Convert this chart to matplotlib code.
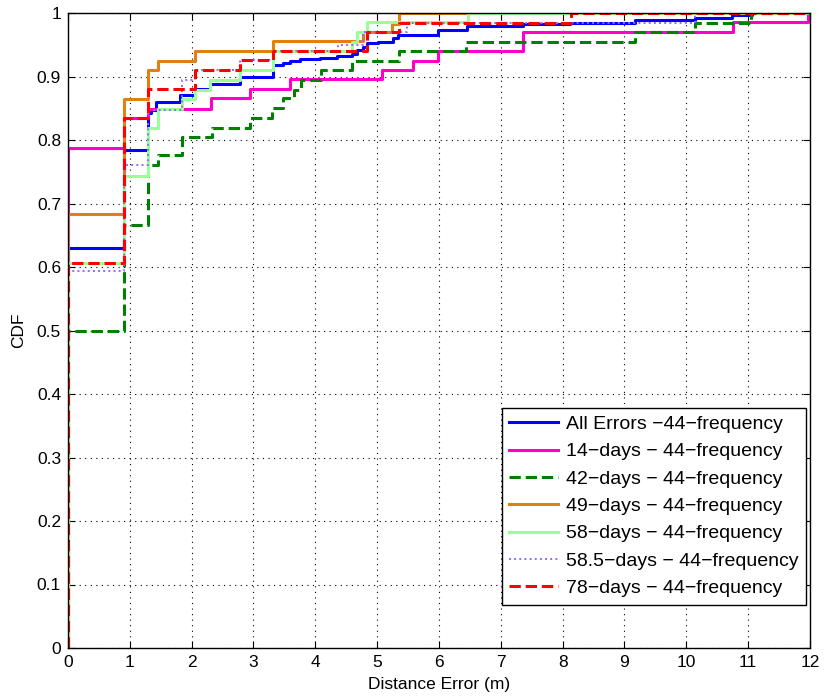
import matplotlib
matplotlib.use("Agg")
from matplotlib import pyplot as plt

plt.rcParams['font.family'] = ['Liberation Sans', 'DejaVu Sans']

# step positions (m) and CDF values
all_x = [0, 0, 0.91, 1.30, 1.35, 1.43, 1.82, 2.06, 2.30, 2.78, 3.32, 3.48, 3.59, 3.75, 4.08, 4.35,
         4.59, 4.67, 4.78, 4.83, 5.02, 5.26, 5.34, 5.99, 6.45, 7.36, 8.12, 9.17, 10.15, 10.74, 11.06, 11.95]
all_y = [0, 0.630, 0.784, 0.842, 0.847, 0.860, 0.871, 0.880, 0.889, 0.900, 0.918, 0.921, 0.924, 0.927, 0.930, 0.932,
         0.936, 0.942, 0.947, 0.953, 0.955, 0.960, 0.965, 0.973, 0.979, 0.983, 0.985, 0.989, 0.992, 0.997, 1.0, 1.0]

d14_x = [0, 0, 0.91, 1.30, 2.32, 2.95, 3.59, 5.08, 5.58, 5.99, 7.36, 10.75, 11.97, 11.97]
d14_y = [0, 0.787, 0.834, 0.849, 0.866, 0.881, 0.896, 0.910, 0.925, 0.940, 0.970, 0.986, 1.0, 1.0]

d42_x = [0, 0, 0.91, 1.30, 1.46, 1.84, 2.33, 2.95, 3.30, 3.47, 3.66, 3.77, 4.10, 4.59, 5.36, 6.43, 9.17, 10.15, 11.05, 11.95]
d42_y = [0, 0.500, 0.667, 0.760, 0.776, 0.805, 0.819, 0.835, 0.850, 0.866, 0.879, 0.894, 0.910, 0.925, 0.940, 0.955, 0.970, 0.985, 1.0, 1.0]

d49_x = [0, 0, 0.91, 1.30, 1.46, 2.06, 3.31, 4.78, 5.24, 5.36, 11.95]
d49_y = [0, 0.683, 0.865, 0.910, 0.925, 0.941, 0.956, 0.970, 0.983, 1.0, 1.0]

d58_x = [0, 0, 0.91, 1.30, 1.46, 1.84, 2.06, 2.30, 2.78, 3.31, 4.59, 4.67, 4.83, 6.47, 11.95]
d58_y = [0, 0.607, 0.744, 0.819, 0.849, 0.865, 0.879, 0.894, 0.910, 0.940, 0.955, 0.970, 0.986, 1.0, 1.0]

d585_x = [0, 0, 0.91, 1.30, 1.84, 2.06, 2.78, 3.31, 4.37, 4.78, 5.48, 10.15, 11.95]
d585_y = [0, 0.593, 0.760, 0.847, 0.894, 0.910, 0.926, 0.941, 0.950, 0.970, 0.985, 1.0, 1.0]

d78_x = [0, 0, 0.91, 1.30, 2.06, 2.78, 3.31, 4.83, 5.36, 8.14, 11.95]
d78_y = [0, 0.607, 0.834, 0.881, 0.910, 0.926, 0.940, 0.970, 0.985, 1.0, 1.0]

fig = plt.figure(figsize=(8.28, 7.0), dpi=100)
ax = fig.add_axes([0.0821, 0.0743, 0.896, 0.907])

ax.step(all_x, all_y, where='post', color='#0000ff', lw=2.2, label='All Errors \u221244\u2212frequency')
ax.step(d14_x, d14_y, where='post', color='#ff00cc', lw=2.2, label='14\u2212days \u2212 44\u2212frequency')
ax.step(d42_x, d42_y, where='post', color='#008000', lw=2.2, ls='--', label='42\u2212days \u2212 44\u2212frequency')
ax.step(d49_x, d49_y, where='post', color='#e08010', lw=2.2, label='49\u2212days \u2212 44\u2212frequency')
ax.step(d58_x, d58_y, where='post', color='#99ff99', lw=2.2, label='58\u2212days \u2212 44\u2212frequency')
ax.step(d585_x, d585_y, where='post', color='#9966ff', lw=1.4, ls=':', label='58.5\u2212days \u2212 44\u2212frequency')
ax.step(d78_x, d78_y, where='post', color='#ff0000', lw=2.2, ls='--', label='78\u2212days \u2212 44\u2212frequency')

ax.set_xlim(0, 12)
ax.set_ylim(0, 1)
ax.set_xticks(range(0, 13))
ax.set_yticks([i / 10 for i in range(11)])
ax.set_yticklabels(['0', '0.1', '0.2', '0.3', '0.4', '0.5', '0.6', '0.7', '0.8', '0.9', '1'])
ax.tick_params(direction='in', top=True, right=True, labelsize=12.5, length=5, pad=5)
ax.grid(True, ls=(0, (1, 4)), color='black', lw=0.8)
ax.set_xlabel('Distance Error (m)', fontsize=12.5, labelpad=5)
ax.set_ylabel('CDF', fontsize=12.5, labelpad=8)
for s in ax.spines.values():
    s.set_linewidth(1.0)

leg = ax.legend(loc='lower right', bbox_to_anchor=(0.995, 0.068), borderaxespad=0,
                fontsize=14, fancybox=False, edgecolor='black', framealpha=1,
                handlelength=2.5, labelspacing=0.5, borderpad=0.4, handletextpad=0.4)
leg.get_frame().set_linewidth(1.0)

fig.savefig('out.png', dpi=100)
